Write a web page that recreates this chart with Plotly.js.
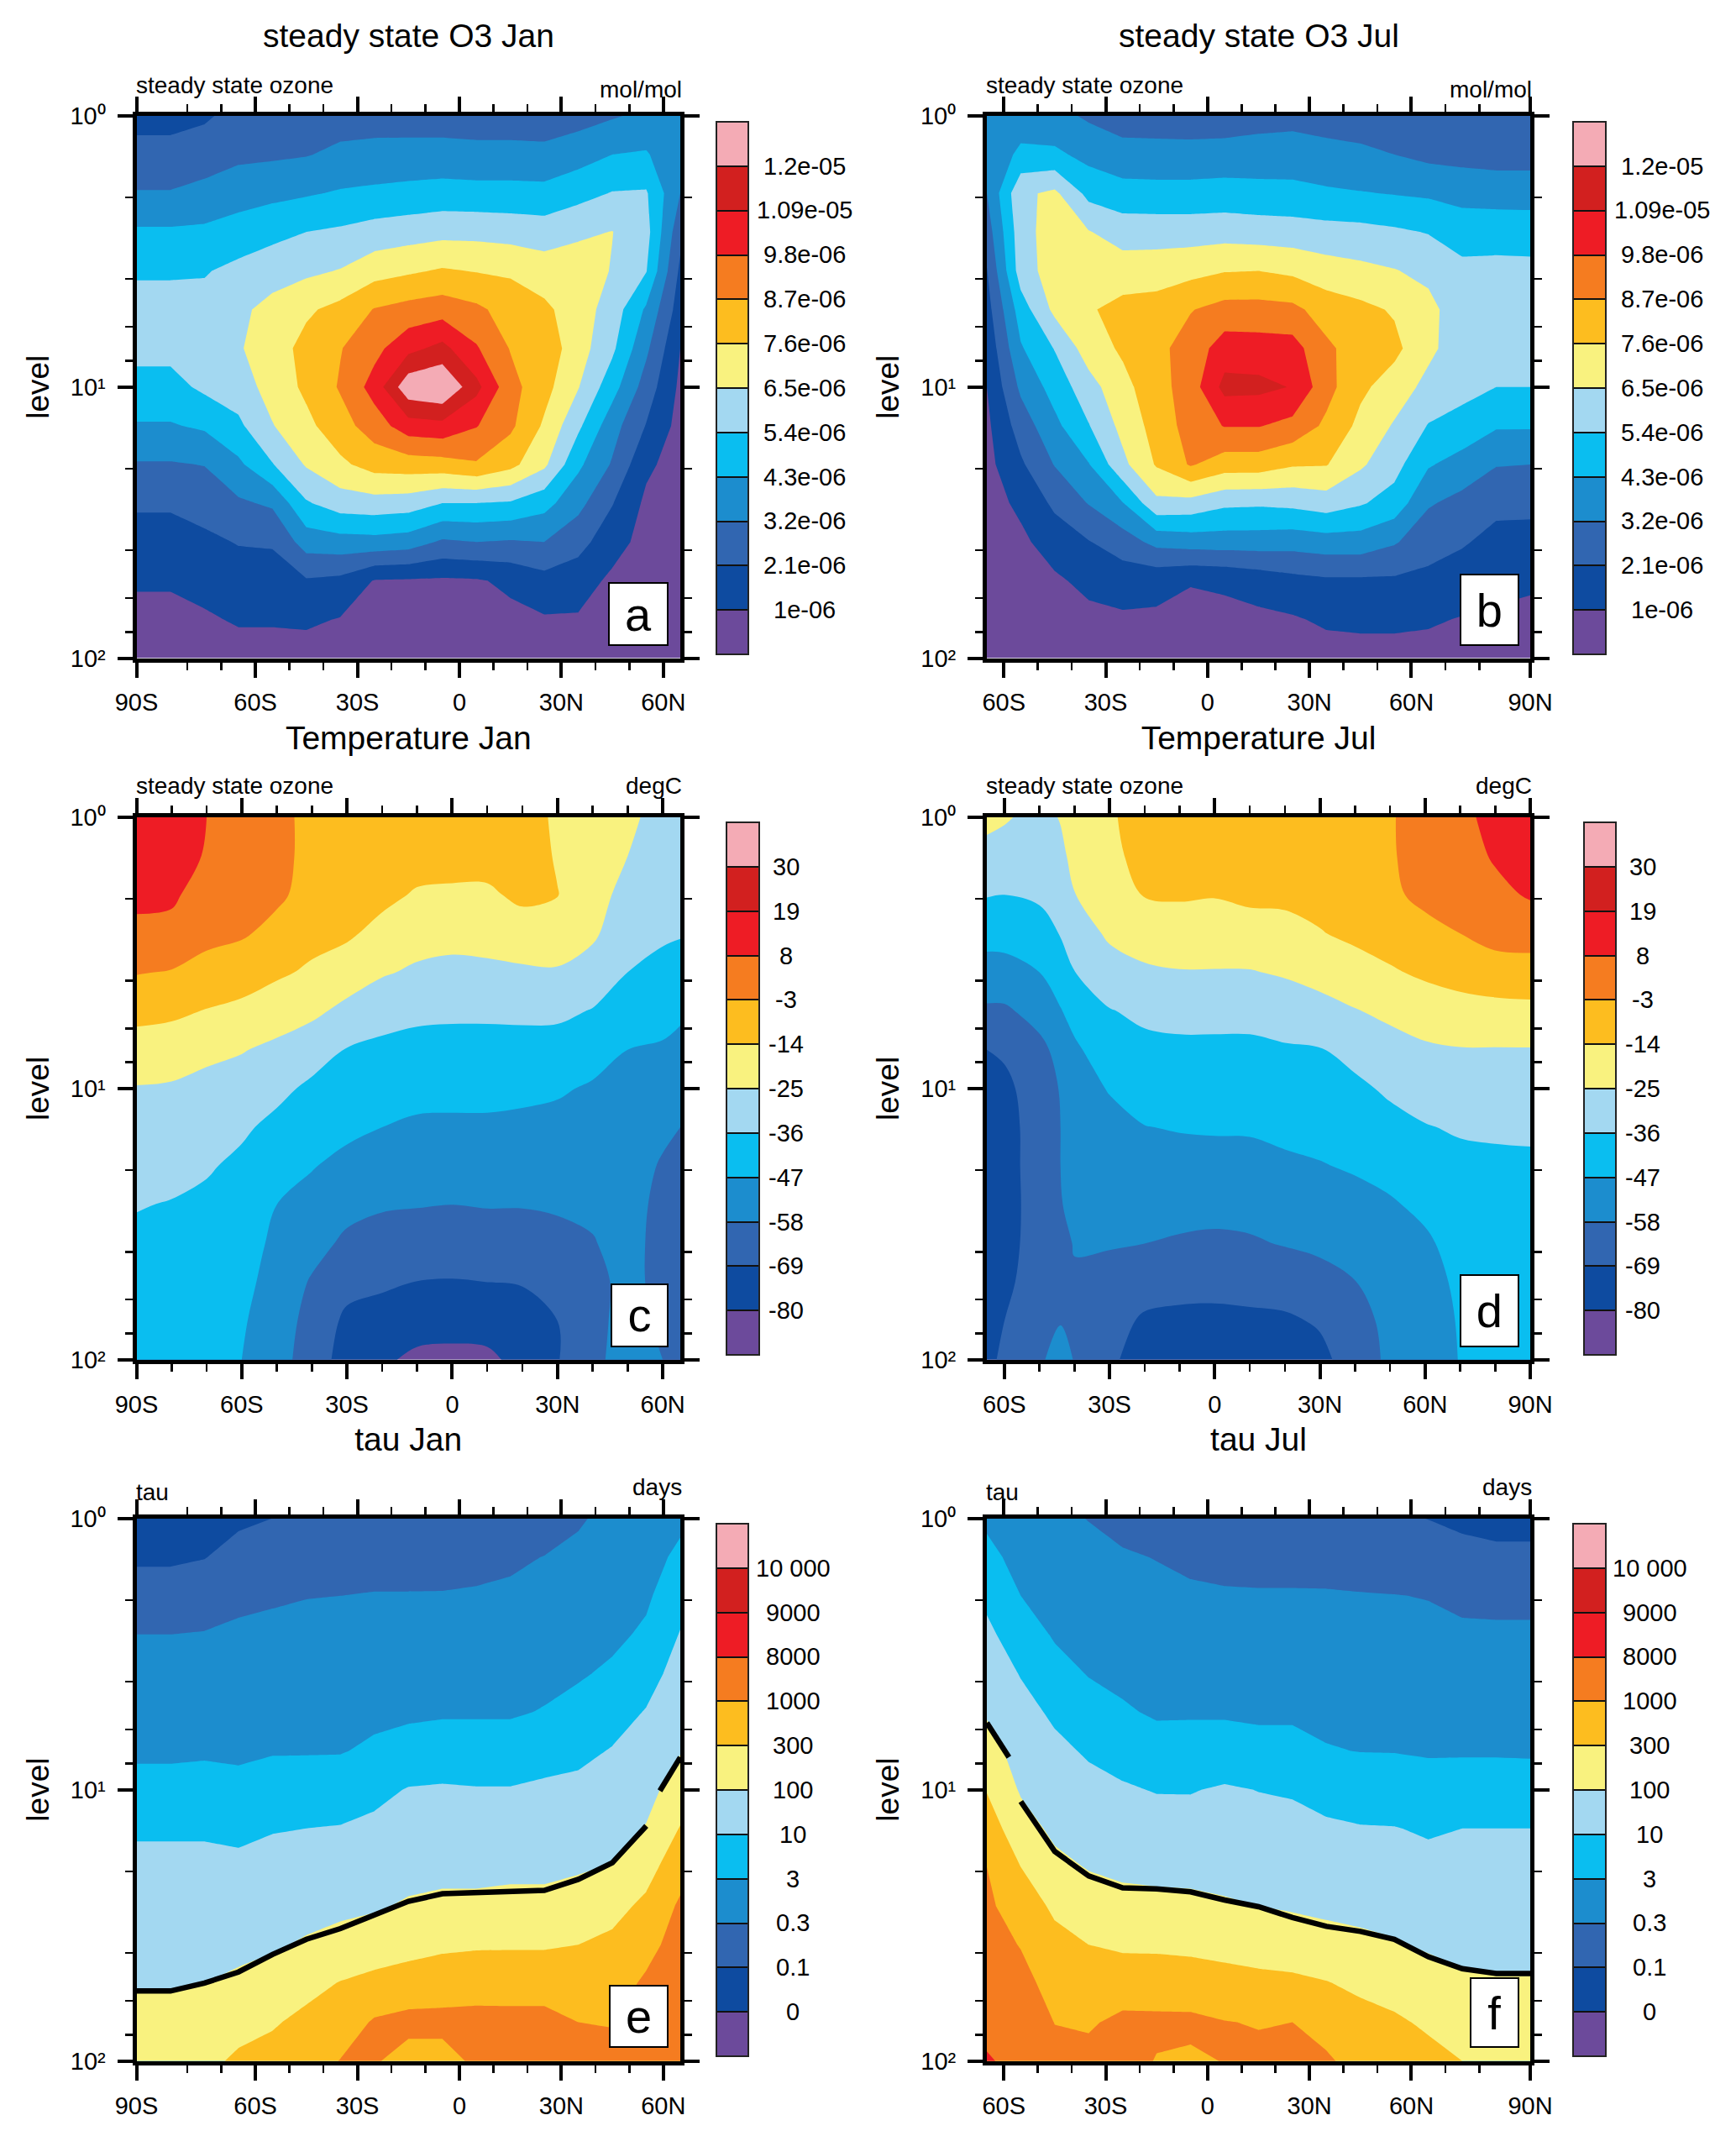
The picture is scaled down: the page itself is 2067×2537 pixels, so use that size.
<!DOCTYPE html>
<html><head><meta charset="utf-8">
<script src="https://cdn.plot.ly/plotly-3.0.1.min.js"></script>
<style>html,body{margin:0;padding:0;background:#fff}</style></head>
<body><div id="chart" style="width:2067px;height:2537px"></div>
<script>
const bandColors = ['#6C4A9B','#0E4BA0','#3166B1','#1C8DCE','#0ABEF0','#A3D8F1','#F9F27F','#FDBD1F','#F57C20','#EE1C25','#D2201F','#F4ABB5'];
const o3Labels = ['1e-06','2.1e-06','3.2e-06','4.3e-06','5.4e-06','6.5e-06','7.6e-06','8.7e-06','9.8e-06','1.09e-05','1.2e-05'];
const tempLabels = ['-80','-69','-58','-47','-36','-25','-14','-3','8','19','30'];
const tauLabels = ['0','0.1','0.3','3','10','100','300','1000','8000','9000','10 000'];
const levels = [1,1.39,1.93,2.68,3.73,5.18,7.2,10,13.9,19.3,26.8,37.3,51.8,72,100];
const latWideSouth = [-95,-85,-75,-65,-55,-45,-35,-25,-15,-5,5,15,25,35,45,55,65];
const latWideNorth = [-65,-55,-45,-35,-25,-15,-5,5,15,25,35,45,55,65,75,85,95];
const latTempJan = [-90,-80,-70,-60,-50,-40,-30,-20,-10,0,10,20,30,40,50,60,65];
const latTempJul = [-65,-60,-50,-44,-40,-30,-20,-10,0,10,20,30,40,50,60,70,80,90];

// Each inner list is one latitude column, top of the panel to the bottom.
// Values are positions on the colour bar: n = the n-th labelled level.
const o3Jan = [
[1.66,2.34,3.06,4.14,4.87,5.4,5.3,4.66,3.92,2.92,2.13,1.6,1.12,.7,.4],
[1.66,2.34,3.06,4.14,4.87,5.4,5.3,4.66,3.92,2.92,2.13,1.6,1.12,.7,.4],
[1.85,2.53,3.28,4.19,4.93,5.3,5.4,5.2,4.15,3.03,2.37,1.8,1.33,.87,.5],
[2.35,2.8,3.55,4.45,5.25,5.8,5.9,5.5,4.8,3.8,2.85,2.05,1.55,1.1,.6],
[2.4,2.85,3.75,4.7,5.6,6.3,6.55,6.4,5.95,4.95,3.15,2.1,1.55,1.1,.6],
[2.5,2.95,3.9,5,5.8,6.85,7.3,7.2,6.75,6.1,4.9,3.45,1.9,1.15,.6],
[2.6,3.2,4.1,5.15,6.05,7.3,7.95,8.1,7.6,6.8,5.5,3.6,1.75,.95,.55],
[2.6,3.3,4.2,5.4,6.6,8.05,8.7,9.4,8.5,7.4,5.6,3.65,.95,.7,.5],
[2.55,3.35,4.3,5.55,6.85,8.35,9.7,11.7,9.55,7.5,5.5,3.5,.9,.7,.5],
[2.55,3.35,4.4,5.7,7.1,8.55,10.3,12,9.7,7.6,5,2.85,.85,.7,.5],
[2.5,3.3,4.35,5.7,6.95,8.2,9.1,10.3,9.05,7.9,5,3,.9,.7,.5],
[2.5,3.3,4.35,5.6,6.85,7.6,7.95,8.35,8.2,7.3,4.9,2.9,1.2,.75,.55],
[2.4,3.3,4.3,5.5,6.5,7.2,7.6,7.35,6.85,6.2,4.35,3,1.65,.9,.55],
[2.6,3.6,4.65,5.85,6.45,6.5,6.45,6.05,5.2,4.2,3.3,2.35,1.45,.9,.55],
[2.9,4,5.05,6.02,5.95,5.55,5.2,4.4,3.4,2.9,2.05,1.4,.8,.6,.45],
[3.2,4.1,5.1,5.35,5.05,3.85,3.2,2.55,1.95,1.2,.8,.65,.55,.45,.4],
[3.3,3.15,3,2.3,1.8,1.5,1,.8,.65,.55,.5,.45,.4,.35,.3]];

const o3Jul = [
[3.3,3.15,3,2.5,1.95,1.6,1.25,1,.8,.7,.6,.5,.45,.4,.35],
[3.4,4.25,5.8,5.6,5.5,4.5,3.9,3.2,2.45,1.85,1.2,.8,.65,.5,.4],
[3.3,4.2,6.2,6.5,6.5,6.25,5.05,4.4,3.75,3.05,2.2,1.45,.85,.6,.45],
[2.85,3.7,4.7,6.05,6.5,6.9,6.5,5.6,4.95,3.95,3.05,1.95,1.25,.75,.5],
[2.55,3.35,4.4,5.55,6.5,7.3,7.15,6.7,6.3,5.75,3.95,2.5,1.45,.85,.55],
[2.5,3.35,4.35,5.55,6.55,7.4,7.75,7.6,7.4,7.1,5.75,3.3,1.3,.85,.55],
[2.45,3.35,4.35,5.55,6.7,7.95,8.4,8.5,8.4,8.1,5.65,3.45,1.05,.75,.55],
[2.45,3.4,4.4,5.6,6.95,8.35,9.5,10.3,9.05,7.5,5.2,3.5,1.15,.75,.55],
[2.65,3.4,4.35,5.5,7,8.35,9.45,10.25,9.05,7.5,5.15,3.5,1.4,.8,.55],
[2.7,3.45,4.3,5.45,6.8,8.25,9.4,9.95,8.7,7.1,5.25,3.4,1.7,.9,.55],
[2.6,3.3,4.15,5.35,6.45,7.55,8.2,8.35,7.8,7.05,5.5,3.55,1.85,1.15,.6],
[2.5,3.2,4.05,5.3,6.25,7.25,7.5,7.2,6.75,6.15,5.1,3.55,1.85,1.2,.65],
[2.3,3,3.95,5.15,6.05,6.9,7.25,6.55,5.9,5.35,4.6,3.1,1.85,1.2,.65],
[2.15,2.75,3.85,4.95,5.75,6.3,6.25,5.7,4.95,4.1,3.1,2.4,1.75,1.1,.7],
[2.1,2.7,3.6,4.65,5.2,5.4,5.4,5.3,4.65,3.6,2.7,2.1,1.5,.95,.65],
[2.15,2.65,3.5,4.7,5.2,5.35,5.3,5,4.1,3.05,2.25,1.7,1.25,.85,.65],
[2.1,2.65,3.5,4.65,5.2,5.35,5.3,5,4.1,3,2.25,1.65,1.15,.75,.6]];

const tempJan = [
[9.8,9.5,9.25,8.75,8.05,7.3,6.55,5.95,5.65,5.35,5.05,4.8,4.6,4.45,4.35],
[9.8,9.55,9.2,8.65,7.95,7.2,6.45,5.9,5.6,5.3,4.95,4.7,4.55,4.4,4.3],
[9,8.9,8.45,8.2,7.75,6.95,6.2,5.75,5.45,5.1,4.8,4.55,4.4,4.3,4.2],
[8.6,8.45,8.3,8.1,7.5,6.75,6.05,5.6,5.15,4.8,4.55,4.4,4.25,4.1,4],
[8.25,8.25,8.15,7.75,7.15,6.45,5.8,5.25,4.75,4.35,4,3.8,3.65,3.5,3.4],
[7.75,7.75,7.7,7.3,6.85,6.2,5.45,4.8,4.4,4.05,3.7,3.35,2.9,2.65,2.5],
[7.9,7.7,7.45,7.15,6.5,5.75,4.95,4.55,4.2,3.75,3.3,2.8,2.3,1.8,1.6],
[7.8,7.55,7.25,6.7,6.1,5.35,4.8,4.4,4,3.55,3.1,2.6,2.15,1.6,1.15],
[7.75,7.4,6.9,6.4,5.85,5.2,4.7,4.3,3.85,3.45,3.05,2.5,1.98,1.4,.8],
[7.75,7.35,6.85,6.3,5.75,5.15,4.7,4.25,3.85,3.4,3,2.5,1.95,1.35,.75],
[7.75,7.35,6.85,6.35,5.8,5.15,4.7,4.25,3.85,3.45,3.05,2.55,2,1.4,.8],
[7.8,7.55,7.2,6.55,5.85,5.2,4.65,4.2,3.8,3.4,3.05,2.55,2.05,1.6,1.3],
[6.7,6.9,7.03,6.55,5.9,5.2,4.6,4.1,3.75,3.45,3.1,2.75,2.3,2,1.95],
[6.45,6.4,6.3,6.15,5.6,4.95,4.35,3.9,3.65,3.4,3.15,2.95,2.7,2.75,2.8],
[6.2,6,5.75,5.4,5,4.5,4,3.75,3.6,3.45,3.35,3.3,3.3,3.3,3.35],
[5.65,5.45,5.3,5.1,4.8,4.3,3.9,3.5,3.2,2.9,2.75,2.7,2.7,2.85,3],
[5.55,5.4,5.25,5.05,4.7,4.15,3.75,3.35,3,2.7,2.55,2.5,2.5,2.5,2.55]];

const tempJul = [
[6.25,5.7,5.05,4.35,3.6,2.85,2,1.7,1.6,1.55,1.5,1.5,1.55,1.65,1.75],
[6.1,5.6,5,4.35,3.65,2.85,2.15,1.75,1.6,1.55,1.5,1.6,1.8,2,2.2],
[5.7,5.45,5.15,4.6,4,3.35,2.75,2.55,2.5,2.55,2.55,2.5,2.45,2.6,2.85],
[6.05,5.8,5.55,5.05,4.45,3.95,3.3,3.05,3,3,2.95,2.75,2.65,2.95,3.4],
[6.5,6.25,5.98,5.5,4.98,4.3,3.85,3.65,3.55,3.4,3.25,3.05,2.9,2.85,2.95],
[6.85,6.7,6.4,6.15,5.6,4.95,4.5,4.05,3.75,3.55,3.3,3.05,2.75,2.4,2.2],
[7.5,7.4,7.05,6.45,5.85,5.2,4.75,4.35,3.98,3.65,3.35,3,2.45,1.85,1.5],
[7.65,7.4,7.1,6.55,5.95,5.3,4.8,4.45,4.05,3.7,3.3,2.9,2.35,1.75,1.25],
[7.7,7.4,7.05,6.5,5.95,5.3,4.8,4.45,4.1,3.65,3.25,2.85,2.3,1.75,1.2],
[7.75,7.5,7.2,6.6,5.95,5.3,4.8,4.45,4.1,3.7,3.3,2.9,2.35,1.8,1.25],
[7.8,7.5,7.2,6.7,6.1,5.45,4.9,4.55,4.2,3.85,3.45,3.05,2.45,1.85,1.35],
[7.85,7.6,7.3,6.95,6.35,5.65,4.95,4.6,4.3,3.95,3.55,3.2,2.65,2.1,1.75],
[7.9,7.7,7.45,7.2,6.6,5.95,5.3,4.8,4.45,4.1,3.7,3.35,2.98,2.65,2.45],
[7.9,7.9,7.85,7.4,6.9,6.2,5.65,5.15,4.7,4.3,3.9,3.65,3.4,3.25,3.2],
[8.5,8.4,8.2,7.75,7.15,6.5,5.85,5.4,4.95,4.6,4.2,3.85,3.6,3.4,3.3],
[8.75,8.6,8.4,8,7.35,6.65,5.95,5.55,5.1,4.75,4.55,4.35,4.2,4.1,4.05],
[9.3,9.1,8.75,8.35,7.55,6.7,5.95,5.55,5.15,4.8,4.6,4.45,4.35,4.3,4.25],
[9.75,9.45,9.1,8.4,7.6,6.75,5.95,5.55,5.15,4.85,4.65,4.5,4.4,4.35,4.3]];

const tauJan = [
[1.6,1.85,2.45,3,3.3,3.6,3.85,4.3,4.9,5.2,5.45,5.7,5.95,6.2,6.45],
[1.6,1.85,2.45,3,3.3,3.6,3.85,4.3,4.9,5.2,5.45,5.7,5.95,6.2,6.45],
[1.7,1.97,2.5,3.05,3.35,3.6,3.9,4.3,4.9,5.2,5.45,5.7,6,6.3,6.7],
[1.85,2.3,2.8,3.15,3.4,3.6,3.85,4.25,4.8,5.2,5.5,5.8,6.15,6.6,7.2],
[2,2.45,2.9,3.2,3.45,3.7,3.95,4.35,4.95,5.3,5.6,5.9,6.35,6.9,7.35],
[2.05,2.5,2.98,3.2,3.45,3.7,3.95,4.4,5,5.35,5.7,6.1,6.7,7.25,7.6],
[2.1,2.55,3,3.25,3.5,3.75,3.95,4.5,5.05,5.4,5.8,6.3,7.05,7.5,8.03],
[2.15,2.6,3.05,3.3,3.55,3.8,4.15,4.75,5.2,5.55,5.9,6.45,7.3,8.1,8.1],
[2.15,2.6,3.05,3.3,3.6,3.85,4.35,5.05,5.35,5.7,6.1,6.7,7.4,8.3,7.6],
[2.2,2.65,3.05,3.3,3.6,3.9,4.45,5.1,5.45,5.75,6.2,6.85,7.5,8.3,7.6],
[2.25,2.7,3.1,3.35,3.65,3.9,4.45,5.05,5.4,5.75,6.2,6.9,7.6,8.3,8.2],
[2.3,2.85,3.15,3.4,3.65,3.9,4.45,5.05,5.4,5.8,6.25,6.9,7.65,8.25,8.4],
[2.5,3.02,3.25,3.5,3.75,4.05,4.65,5.15,5.45,5.8,6.25,6.9,7.65,8.25,8.5],
[2.9,3.2,3.4,3.65,3.9,4.3,4.8,5.2,5.55,5.9,6.4,7,7.5,8,8.3],
[3.25,3.45,3.6,3.8,4.15,4.65,5.05,5.4,5.7,6.05,6.7,7.2,7.6,7.95,8.3],
[3.4,3.65,3.85,4.15,4.65,5.05,5.4,5.7,6.05,6.65,7.2,7.7,8.15,8.5,8.7],
[3.8,4.2,4.65,5.05,5.35,5.65,5.95,6.45,7.05,7.6,8.15,8.4,8.6,8.7,8.8]];

const tauJul = [
[3.8,4.3,4.8,5.2,5.55,5.9,6.4,6.95,7.5,8,8.2,8.45,8.65,8.85,9.05],
[3.25,3.65,4,4.5,4.95,5.3,5.6,5.9,6.4,7,7.45,7.95,8.35,8.7,8.85],
[3.15,3.4,3.65,3.9,4.35,4.85,5.2,5.5,5.8,6.25,6.85,7.25,7.6,7.98,8.3],
[2.98,3.2,3.45,3.7,3.95,4.4,4.9,5.25,5.6,5.95,6.45,7,7.45,7.9,8.25],
[2.7,3.1,3.35,3.6,3.8,4.1,4.65,5.1,5.45,5.8,6.3,6.85,7.55,8.2,8.4],
[2.55,2.97,3.25,3.45,3.7,3.9,4.35,4.95,5.4,5.75,6.25,6.85,7.5,8.2,7.95],
[2.4,2.8,3.15,3.4,3.65,3.9,4.4,4.95,5.35,5.75,6.2,6.8,7.45,8.2,7.85],
[2.35,2.7,3.1,3.35,3.6,3.9,4.4,5.1,5.4,5.7,6.1,6.7,7.35,8.03,8.03],
[2.3,2.6,3.1,3.35,3.6,3.85,4.3,4.98,5.3,5.65,6,6.6,7.25,7.95,8.2],
[2.3,2.6,3.1,3.35,3.55,3.85,4.3,4.9,5.3,5.6,5.9,6.5,7.2,8,8.3],
[2.25,2.55,3.1,3.3,3.55,3.8,4.05,4.65,5.15,5.5,5.8,6.35,7.05,7.6,8.15],
[2.2,2.55,3.05,3.3,3.5,3.75,3.98,4.55,5.05,5.4,5.75,6.2,6.8,7.35,7.6],
[2.15,2.5,3.02,3.3,3.5,3.75,3.97,4.5,5.03,5.35,5.7,6.07,6.6,7.15,7.5],
[1.98,2.5,2.97,3.2,3.45,3.7,3.92,4.35,4.9,5.25,5.6,5.9,6.35,6.85,7.3],
[1.8,2.3,2.8,3.15,3.4,3.7,3.92,4.4,5,5.25,5.55,5.85,6.1,6.55,7],
[1.7,2.2,2.75,3.15,3.4,3.65,3.92,4.4,5,5.25,5.5,5.8,6.05,6.35,6.65],
[1.7,2.2,2.75,3.15,3.4,3.65,3.9,4.4,5,5.25,5.5,5.8,6.05,6.3,6.6]];

// The heavy black line (tau = 100 days); the nulls are its label gaps.
const lineJanLat = [-95,-85,-75,-65,-55,-45,-35,-25,-15,-5,5,15,25,35,45,55,null,59,65];
const lineJanLevel = [55.2,55.2,51.6,47,40.5,35.6,32.5,29,25.8,24.2,24,23.7,23.5,21.4,18.6,13.6,null,10.1,7.6];
const lineJulLat = [-65,-58.5,null,-55,-45,-35,-25,-15,-5,5,15,25,35,45,55,65,75,85,95];
const lineJulLevel = [5.67,7.6,null,11.06,16.9,20.8,23,23.2,23.8,25.5,27,29.6,31.9,33.3,35.6,41.3,45.7,47.6,47.6];

const tickSouth = {vals:[-95,-60,-30,0,30,60], text:['90S','60S','30S','0','30N','60N'], minor:[-80,-70,-50,-40,-20,-10,10,20,40,50]};
const tickNorth = {vals:[-60,-30,0,30,60,95], text:['60S','30S','0','30N','60N','90N'], minor:[-50,-40,-20,-10,10,20,40,50,70,80]};
const tickTempJan = {vals:[-90,-60,-30,0,30,60], text:['90S','60S','30S','0','30N','60N'], minor:[-80,-70,-50,-40,-20,-10,10,20,40,50]};
const tickTempJul = {vals:[-60,-30,0,30,60,90], text:['60S','30S','0','30N','60N','90N'], minor:[-50,-40,-20,-10,10,20,40,50,70,80]};
const levelTickVals = [1,10,100];
const levelTickText = ['10\u2070','10\u00B9','10\u00B2'];
const levelMinor = [2,4,6,8,20,40,60,80];

const W = 2067, H = 2537, FONT = 'Liberation Sans, Arial, sans-serif';
const panels = [
 {id:'',  box:[162.5,810,137.8,783.6], cb:[853,890.6,144.7,779], cbText:958, x:latWideSouth, z:o3Jan, smooth:0, labels:o3Labels, ticks:tickSouth, range:[-95,65], xtitle:'Temperature Jan',
  left:'steady state ozone', leftY:102, right:'mol/mol', rightY:106, tag:'a', tagBox:[726,794,697,769], title:'steady state O3 Jan'},
 {id:'2', box:[1175,1822,137.8,783.6], cb:[1873,1911.6,144.7,779], cbText:1979, x:latWideNorth, z:o3Jul, smooth:0, labels:o3Labels, ticks:tickNorth, range:[-65,95], xtitle:'Temperature Jul',
  left:'steady state ozone', leftY:102, right:'mol/mol', rightY:106, tag:'b', tagBox:[1740,1806.5,687,769], title:'steady state O3 Jul'},
 {id:'3', box:[162.5,810,973,1618.8], cb:[865,904,979,1613], cbText:936, x:latTempJan, z:tempJan, smooth:1, labels:tempLabels, ticks:tickTempJan, range:[-90,65], xtitle:'tau Jan',
  left:'steady state ozone', leftY:936, right:'degC', rightY:936, tag:'c', tagBox:[729,794,1532,1603.6]},
 {id:'4', box:[1175,1822,973,1618.8], cb:[1886,1924,979,1613], cbText:1956, x:latTempJul, z:tempJul, smooth:1, labels:tempLabels, ticks:tickTempJul, range:[-65,90], xtitle:'tau Jul',
  left:'steady state ozone', leftY:936, right:'degC', rightY:936, tag:'d', tagBox:[1740,1806.5,1521,1603.6]},
 {id:'5', box:[162.5,810,1807.5,2453.7], cb:[853,890.6,1813.8,2448], cbText:944, x:latWideSouth, z:tauJan, smooth:0, labels:tauLabels, ticks:tickSouth, range:[-95,65],
  left:'tau', leftY:1776, right:'days', rightY:1770, tag:'e', tagBox:[727,794,2367,2438], lineX:lineJanLat, lineY:lineJanLevel},
 {id:'6', box:[1175,1822,1807.5,2453.7], cb:[1873,1911.6,1813.8,2448], cbText:1964, x:latWideNorth, z:tauJul, smooth:0, labels:tauLabels, ticks:tickNorth, range:[-65,95],
  left:'tau', leftY:1776, right:'days', rightY:1770, tag:'f', tagBox:[1752,1806.5,2358,2438], lineX:lineJulLat, lineY:lineJulLevel}
];

const colorscale = bandColors.map((c,i)=>[i/(bandColors.length-1),c]);
const levelTicks = o3Labels.map((_,i)=>i+1);
const data = [], annotations = [];
const layout = {width:W, height:H, margin:{l:0,r:0,t:0,b:0}, autosize:false, paper_bgcolor:'#fff', plot_bgcolor:'#fff',
  showlegend:false, font:{family:FONT,color:'#000',size:29}, annotations};
const note = (text,x,y,size,opts) => annotations.push(Object.assign({text,x:x/W,y:1-y/H,xref:'paper',yref:'paper',showarrow:false,
  xanchor:'center',yanchor:'middle',font:{size,family:FONT,color:'#000'}},opts||{}));

panels.forEach(p=>{
  const [l,r,t,b] = p.box, [cl,cr,ct,cb] = p.cb;
  data.push({type:'contour', x:p.x, y:levels, z:p.z, transpose:true, xaxis:'x'+p.id, yaxis:'y'+p.id,
    autocontour:false, contours:{coloring:'fill',showlines:false,start:1,end:11,size:1}, line:{width:0,smoothing:p.smooth},
    colorscale, zmin:0, zmax:12, hoverinfo:'skip',
    colorbar:{x:cl/W,xanchor:'left',y:1-cb/H,yanchor:'bottom',len:(cb-ct)/H,lenmode:'fraction',thickness:cr-cl,thicknessmode:'pixels',
      xpad:0,ypad:0,outlinewidth:2,outlinecolor:'#222',borderwidth:0,tickmode:'array',tickvals:levelTicks,ticktext:p.labels,
      ticks:'inside',ticklen:cr-cl,tickwidth:2,tickcolor:'#111',showticklabels:false}});
  if(p.lineX) data.push({type:'scatter',mode:'lines',x:p.lineX,y:p.lineY,xaxis:'x'+p.id,yaxis:'y'+p.id,
    line:{color:'#000',width:6.5},connectgaps:false,hoverinfo:'skip'});
  layout['xaxis'+p.id] = {domain:[l/W,r/W],anchor:'y'+p.id,range:p.range,showgrid:false,zeroline:false,showline:true,linewidth:5,linecolor:'#000',
    mirror:'allticks',ticks:'outside',ticklen:18,tickwidth:4,tickcolor:'#000',tickmode:'array',tickvals:p.ticks.vals,ticktext:p.ticks.text,
    tickfont:{size:29,family:FONT,color:'#000'},ticklabelstandoff:5,
    minor:{tickmode:'array',tickvals:p.ticks.minor,ticks:'outside',ticklen:9,tickwidth:2.5,tickcolor:'#000',showgrid:false},
    title:p.xtitle?{text:p.xtitle,font:{size:39,family:FONT,color:'#000'},standoff:15}:{text:''}};
  layout['yaxis'+p.id] = {domain:[1-b/H,1-t/H],anchor:'x'+p.id,type:'log',range:[2,0],showgrid:false,zeroline:false,showline:true,linewidth:5,linecolor:'#000',
    mirror:'allticks',ticks:'outside',ticklen:18,tickwidth:4,tickcolor:'#000',tickmode:'array',tickvals:levelTickVals,
    ticktext:levelTickText,tickfont:{size:29,family:FONT,color:'#000'},ticklabelstandoff:8,
    minor:{tickmode:'array',tickvals:levelMinor,ticks:'outside',ticklen:9,tickwidth:2.5,tickcolor:'#000',showgrid:false},
    title:{text:'level',font:{size:37,family:FONT,color:'#000'},standoff:15}};
  p.labels.forEach((txt,i)=>note(txt,p.cbText,cb-(cb-ct)*(i+1)/12,29));
  note(p.left,l-3,p.leftY,28,{xanchor:'left'});
  note(p.right,r+4,p.rightY,28,{xanchor:'right'});
  const [tl,tr,tt,tb] = p.tagBox;
  note(p.tag,(tl+tr)/2,(tt+tb)/2-2,56,{width:tr-tl,height:tb-tt,bgcolor:'#fff',bordercolor:'#000',borderwidth:2,borderpad:0,align:'center',valign:'middle'});
  if(p.title) note(p.title,(l+r)/2,43,39);
});
Plotly.newPlot('chart',data,layout,{displayModeBar:false,staticPlot:true});
</script></body></html>
